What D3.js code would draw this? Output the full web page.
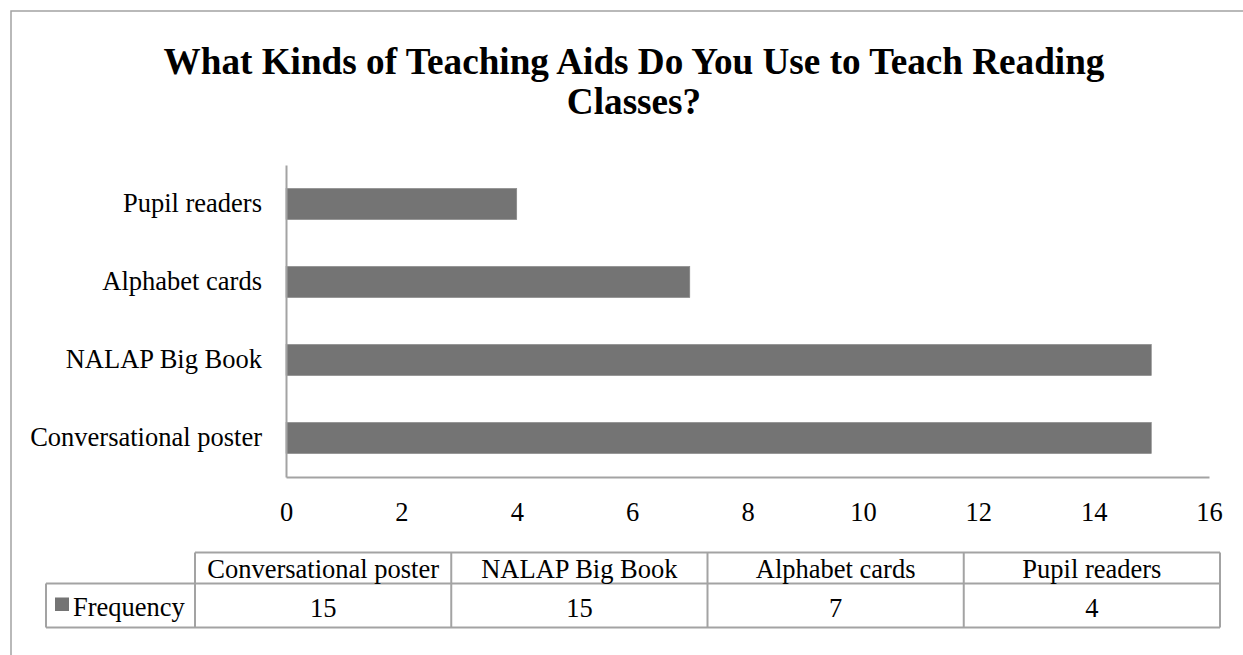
<!DOCTYPE html>
<html>
<head>
<meta charset="utf-8">
<script src="https://cdn.jsdelivr.net/npm/d3@7"></script>
<style>
  html, body { margin: 0; padding: 0; background: #fff; }
  svg { display: block; font-family: "Liberation Serif", "Times New Roman", serif; }
</style>
</head>
<body>
<svg id="chart" width="1243" height="655"></svg>
<script>
// Survey responses: teaching aids used in reading classes
const categories = ["Conversational poster", "NALAP Big Book", "Alphabet cards", "Pupil readers"];
const frequency = [15, 15, 7, 4];
const xTicks = [0, 2, 4, 6, 8, 10, 12, 14, 16];
const seriesName = "Frequency";
const titleLines = ["What Kinds of Teaching Aids Do You Use to Teach Reading", "Classes?"];

const W = 1243, H = 655;
const barColor = "#747474";
const lineColor = "#a3a3a3";
const fontSize = 26.5;

const svg = d3.select("#chart");
svg.append("rect").attr("width", W).attr("height", H).attr("fill", "#fff");

// chart frame (extends past the right and bottom edges)
svg.append("path")
  .attr("d", `M11,${H + 5} L11,11 L${W + 5},11`)
  .attr("fill", "none").attr("stroke", lineColor).attr("stroke-width", 1.5);

// title
const title = svg.append("text")
  .attr("text-anchor", "middle")
  .attr("font-weight", "bold")
  .attr("font-size", 37.2)
  .attr("fill", "#000");
title.selectAll("tspan").data(titleLines).join("tspan")
  .attr("x", 634)
  .attr("y", (d, i) => 74 + i * 40)
  .text(d => d);

// plot area
const plot = { left: 286, right: 1209, top: 165, bottom: 477 };

const x = d3.scaleLinear().domain([0, 16]).range([plot.left, plot.right]);
const y = d3.scaleBand()
  .domain(categories.slice().reverse())
  .range([plot.top, plot.bottom])
  .paddingInner(0.6)
  .paddingOuter(0.3);

// bars
svg.append("g").selectAll("rect")
  .data(categories.map((c, i) => ({ c, v: frequency[i] })))
  .join("rect")
  .attr("x", x(0))
  .attr("y", d => y(d.c))
  .attr("width", d => x(d.v) - x(0))
  .attr("height", y.bandwidth())
  .attr("fill", barColor)
  .attr("stroke", "#8a8a8a")
  .attr("stroke-width", 0.6);

// x axis
const xAxis = svg.append("g")
  .attr("transform", `translate(0,${plot.bottom})`)
  .call(d3.axisBottom(x).tickValues(xTicks).tickSize(0).tickSizeOuter(0).tickPadding(25));
xAxis.select(".domain").attr("stroke", lineColor).attr("stroke-width", 2);
xAxis.selectAll("text")
  .attr("font-family", "Liberation Serif, Times New Roman, serif")
  .attr("font-size", fontSize).attr("fill", "#000");

// y axis
const yAxis = svg.append("g")
  .attr("transform", `translate(${plot.left},0)`)
  .call(d3.axisLeft(y).tickSize(0).tickSizeOuter(0).tickPadding(24));
yAxis.select(".domain").attr("stroke", lineColor).attr("stroke-width", 2);
yAxis.selectAll("text")
  .attr("font-family", "Liberation Serif, Times New Roman, serif")
  .attr("font-size", fontSize).attr("fill", "#000");

// data table under the axis
const table = { left: 195, right: 1220, headTop: 552.5, rowTop: 583.5, bottom: 627.5, legendLeft: 46 };
const col = d3.scaleBand().domain(categories).range([table.left, table.right]);

const tg = svg.append("g");
const tStroke = { stroke: lineColor, "stroke-width": 2, fill: "none" };
function line(x1, y1, x2, y2) {
  const l = tg.append("line").attr("x1", x1).attr("y1", y1).attr("x2", x2).attr("y2", y2);
  Object.entries(tStroke).forEach(([k, v]) => l.attr(k, v));
}
// horizontal rules
line(table.left, table.headTop, table.right, table.headTop);
line(table.legendLeft, table.rowTop, table.right, table.rowTop);
line(table.legendLeft, table.bottom, table.right, table.bottom);
// vertical rules
line(table.legendLeft, table.rowTop, table.legendLeft, table.bottom);
categories.forEach(c => line(col(c), table.headTop, col(c), table.bottom));
line(table.right, table.headTop, table.right, table.bottom);

// header labels
tg.selectAll("text.head").data(categories).join("text")
  .attr("class", "head")
  .attr("x", d => col(d) + col.bandwidth() / 2)
  .attr("y", 578)
  .attr("text-anchor", "middle")
  .attr("font-size", fontSize)
  .text(d => d);

// values
tg.selectAll("text.val").data(frequency).join("text")
  .attr("class", "val")
  .attr("x", (d, i) => col(categories[i]) + col.bandwidth() / 2)
  .attr("y", 617)
  .attr("text-anchor", "middle")
  .attr("font-size", fontSize)
  .text(d => d);

// legend key + series name
tg.append("rect")
  .attr("x", 55).attr("y", 597.5).attr("width", 14).attr("height", 13.5)
  .attr("fill", barColor);
tg.append("text")
  .attr("x", 73).attr("y", 616)
  .attr("font-size", fontSize)
  .text(seriesName);
</script>
</body>
</html>
